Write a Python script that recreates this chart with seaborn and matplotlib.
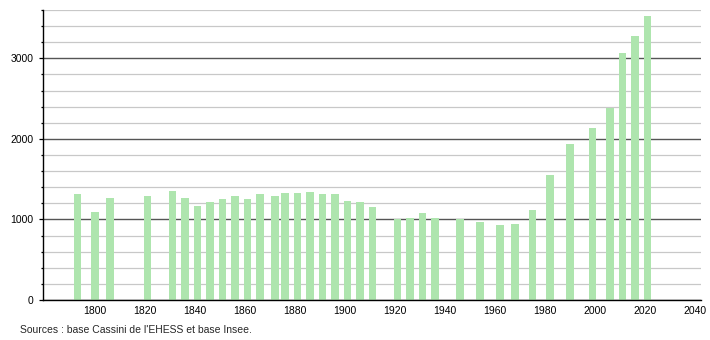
import matplotlib
matplotlib.use("Agg")
import matplotlib.pyplot as plt
import seaborn as sns
from matplotlib.ticker import MultipleLocator, FixedLocator

years = [1793, 1800, 1806, 1821, 1831, 1836, 1841, 1846, 1851, 1856,
         1861, 1866, 1872, 1876, 1881, 1886, 1891, 1896, 1901, 1906,
         1911, 1921, 1926, 1931, 1936, 1946, 1954, 1962, 1968, 1975,
         1982, 1990, 1999, 2006, 2011, 2016, 2021]
population = [1310, 1092, 1268, 1293, 1347, 1268, 1167, 1222, 1259, 1297,
              1259, 1314, 1285, 1331, 1331, 1343, 1318, 1314, 1230, 1218,
              1150, 1010, 1022, 1084, 1022, 1010, 972, 935, 947, 1113,
              1550, 1932, 2131, 2381, 3066, 3278, 3527]
x_ticks = list(range(1800, 2041, 20))
y_ticks = [0, 1000, 2000, 3000]
source_text = "Sources : base Cassini de l'EHESS et base Insee."

sns.set_style("ticks")
plt.rcParams['font.family'] = ['Liberation Sans', 'DejaVu Sans']

fig = plt.figure(figsize=(7.1, 3.4), dpi=100)
ax = fig.add_axes([43 / 710, 40 / 340, (701 - 43) / 710, (300 - 10) / 340])

sns.barplot(x=years, y=population, native_scale=True, width=0.77,
            color="#aee5ae", saturation=1, linewidth=0, ax=ax, zorder=3)

ax.set_xlim(1779.2, 2042.4)
ax.set_ylim(0, 3600)
ax.xaxis.set_major_locator(FixedLocator(x_ticks))
ax.set_xticklabels([str(t) for t in x_ticks])
ax.yaxis.set_major_locator(FixedLocator(y_ticks))
ax.yaxis.set_minor_locator(MultipleLocator(200))
ax.set_axisbelow(True)
ax.grid(axis='y', which='minor', color='#c8c8c8', linewidth=0.9, zorder=0)
ax.grid(axis='y', which='major', color='#555555', linewidth=1.0, zorder=1)
ax.grid(axis='x', visible=False)

for s in ['top', 'right']:
    ax.spines[s].set_visible(False)
for s in ['left', 'bottom']:
    ax.spines[s].set_color('black')
    ax.spines[s].set_linewidth(1.0)
    ax.spines[s].set_zorder(5)

ax.tick_params(axis='x', which='both', length=0, pad=4, labelsize=7.5, colors='black')
ax.tick_params(axis='y', which='major', length=3, width=0.9, pad=4, labelsize=7.5, colors='black')
ax.tick_params(axis='y', which='minor', length=1.6, width=0.9, colors='black')
ax.set_xlabel("")
ax.set_ylabel("")

fig.text(20 / 710, 1 - 330 / 340, source_text, fontsize=7.5, ha='left', va='center')

fig.savefig("out.png", dpi=100)
